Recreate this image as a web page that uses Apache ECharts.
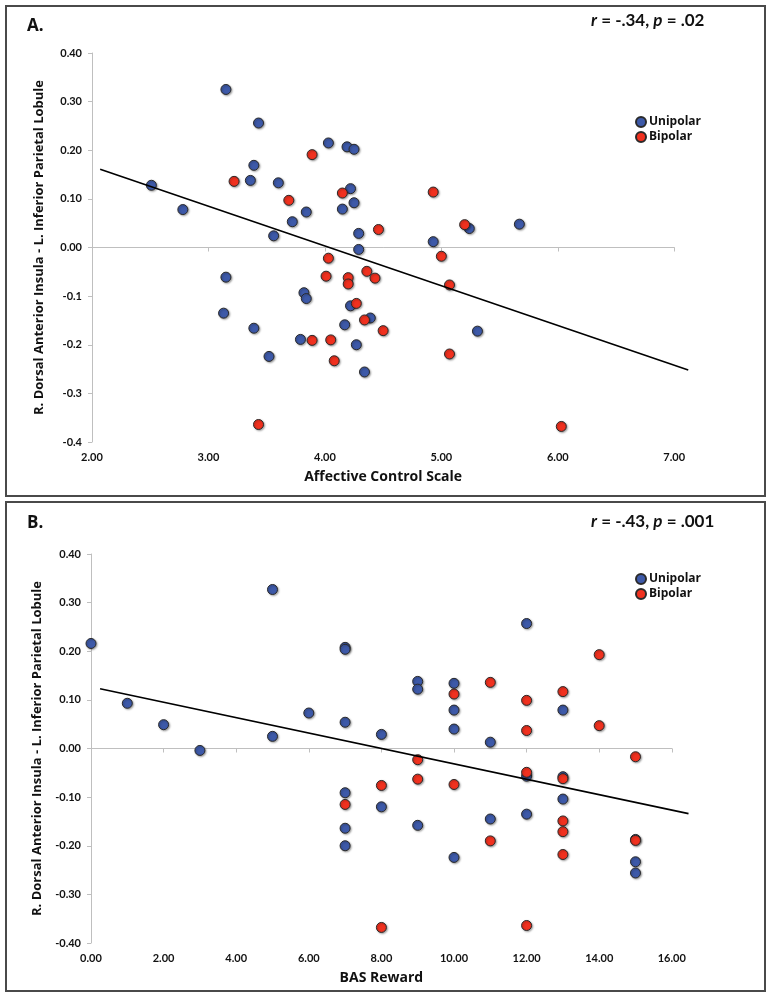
<!DOCTYPE html>
<html>
<head>
<meta charset="utf-8">
<script src="https://cdn.jsdelivr.net/npm/echarts@6.0.0/dist/echarts.min.js"></script>
<style>
html,body{margin:0;padding:0;background:#fff;}
#c{width:773px;height:1000px;}
</style>
</head>
<body>
<div id="c"></div>
<script>
// ---------- Panel A data: Affective Control Scale vs connectivity ----------
const unipolarA = [
  [2.51,0.128],[2.78,0.078],[3.15,0.325],[3.43,0.256],[3.36,0.138],[3.39,0.169],
  [3.60,0.133],[3.84,0.073],[3.72,0.053],[3.56,0.024],[4.03,0.215],[4.19,0.207],
  [4.25,0.202],[4.22,0.121],[4.25,0.092],[4.15,0.079],[4.29,0.029],[4.29,-0.004],
  [4.93,0.012],[5.24,0.039],[5.67,0.048],[3.15,-0.061],[3.13,-0.135],[3.39,-0.166],
  [3.52,-0.224],[3.82,-0.093],[3.84,-0.105],[3.79,-0.189],[4.22,-0.120],[4.39,-0.145],
  [4.17,-0.159],[5.31,-0.172],[4.27,-0.200],[4.34,-0.256]
];
const bipolarA = [
  [3.22,0.136],[3.89,0.191],[3.69,0.097],[4.15,0.112],[4.46,0.037],[4.93,0.114],
  [5.20,0.047],[4.03,-0.022],[5.00,-0.018],[3.43,-0.364],[3.89,-0.191],[4.01,-0.059],
  [4.20,-0.062],[4.20,-0.075],[4.36,-0.049],[4.43,-0.063],[5.07,-0.077],[4.27,-0.115],
  [4.34,-0.149],[4.50,-0.171],[4.05,-0.190],[5.07,-0.219],[4.08,-0.233],[6.03,-0.368]
];
const trendA = [[2.07,0.161],[7.12,-0.252]];
const xTickLabelsA = ['2.00','3.00','4.00','5.00','6.00','7.00'];
const yTickLabelsA = ['-0.4','-0.3','-0.2','-0.1','0.00','0.10','0.20','0.30','0.40'];

// ---------- Panel B data: BAS Reward vs connectivity ----------
const unipolarB = [
  [0,0.216],[1,0.093],[2,0.049],[3,-0.004],[5,0.327],[5,0.025],[6,0.073],
  [7,0.208],[7,0.204],[7,0.054],[7,-0.091],[7,-0.164],[7,-0.200],
  [8,0.029],[8,-0.120],[9,0.138],[9,0.122],[9,-0.158],
  [10,0.134],[10,0.079],[10,0.040],[10,-0.224],[11,0.013],[11,-0.145],
  [12,0.257],[12,-0.057],[12,-0.135],[13,0.079],[13,-0.058],[13,-0.104],
  [15,-0.187],[15,-0.233],[15,-0.256]
];
const bipolarB = [
  [7,-0.115],[8,-0.076],[8,-0.368],[9,-0.023],[9,-0.063],[10,0.112],[10,-0.074],
  [11,0.136],[11,-0.190],[12,0.099],[12,0.037],[12,-0.049],[12,-0.364],
  [13,0.117],[13,-0.062],[13,-0.149],[13,-0.171],[13,-0.218],
  [14,0.193],[14,0.047],[15,-0.017],[15,-0.189]
];
const trendB = [[0.25,0.123],[16.46,-0.134]];
const xTickLabelsB = ['0.00','2.00','4.00','6.00','8.00','10.00','12.00','14.00','16.00'];
const yTickLabelsB = ['-0.40','-0.30','-0.20','-0.10','0.00','0.10','0.20','0.30','0.40'];

const seriesNames = ['Unipolar','Bipolar'];
const statA = ['r', ' = -.34, ', 'p', ' = .02'];
const statB = ['r', ' = -.43, ', 'p', ' = .001'];
const yTitle = 'R. Dorsal Anterior Insula - L. Inferior Parietal Lobule';
const xTitleA = 'Affective Control Scale';
const xTitleB = 'BAS Reward';

// ---------- styling ----------
const BLUE = '#3d59a8';
const RED = '#f0311f';
const AXIS_GRAY = '#bfbfbf';
const tickFont = {fontFamily:'Lato', fontWeight:'bold', fontSize:11, color:'#111'};
const titleFont = {fontFamily:'Open Sans', fontWeight:'bold', fontSize:14, color:'#111'};

// geometry of the two panels (pixel layout only)
const PA = {left:92, top:53, height:389, pxPerUnit:116.45, min:2, max:7, trendMax:7.25};
const PB = {left:91, top:554, height:389, pxPerUnit:36.3, min:0, max:16, trendMax:16.6};

function labelFrom(arr, min, step){
  return function(v){ const i = Math.round((v - min)/step); return arr[i] !== undefined ? arr[i] : ''; };
}

function xAxes(gridIndex, P, interval, labels, name){
  return [
    {
      type:'value', gridIndex, position:'bottom', min:P.min, max:P.max, interval,
      axisLine:{show:false, onZero:false}, axisTick:{show:false}, splitLine:{show:false},
      axisLabel:Object.assign({margin:10, formatter:labelFrom(labels, P.min, interval)}, tickFont),
      name, nameLocation:'middle', nameGap:28,
      nameTextStyle:Object.assign({}, titleFont, {fontSize:14})
    },
    {
      type:'value', gridIndex, position:'top', min:P.min, max:P.max, interval,
      axisLine:{show:true, onZero:true, lineStyle:{color:AXIS_GRAY, width:1}},
      axisTick:{show:true, inside:true, length:4, lineStyle:{color:AXIS_GRAY}},
      axisLabel:{show:false}, splitLine:{show:false}
    }
  ];
}
function hiddenX(gridIndex, P){
  return {type:'value', gridIndex, min:P.min, max:P.trendMax, show:false, splitLine:{show:false}};
}
function yAxis(gridIndex, labels){
  return {
    type:'value', gridIndex, min:-0.4, max:0.4, interval:0.1,
    axisLine:{show:true, lineStyle:{color:AXIS_GRAY, width:1}},
    axisTick:{show:true, length:4, lineStyle:{color:AXIS_GRAY}},
    splitLine:{show:false},
    axisLabel:Object.assign({margin:10, formatter:labelFrom(labels, -0.4, 0.1)}, tickFont),
    name:yTitle, nameLocation:'middle', nameGap:46,
    nameTextStyle:Object.assign({}, titleFont, {fontSize:13})
  };
}
function hiddenY(gridIndex){
  return {type:'value', gridIndex, min:-0.4, max:0.4, show:false, splitLine:{show:false}};
}
function scatter(name, data, color, xi, yi){
  return {
    name, type:'scatter', data, xAxisIndex:xi, yAxisIndex:yi, symbol:'circle', symbolSize:10,
    itemStyle:{color, borderColor:'#2a2a2a', borderWidth:1,
      shadowColor:'rgba(0,0,0,0.35)', shadowBlur:2, shadowOffsetX:1, shadowOffsetY:1, opacity:1},
    emphasis:{disabled:true}, z:3
  };
}
function trend(data, xi, yi){
  return {
    name:'trend', type:'line', data, xAxisIndex:xi, yAxisIndex:yi, symbol:'none', clip:false,
    lineStyle:{color:'#000', width:1.6}, silent:true, z:4
  };
}
function statTitle(parts, top){
  return {
    left:586, top,
    text:'{i|' + parts[0] + '}{b|' + parts[1] + '}{i|' + parts[2] + '}{b|' + parts[3] + '}',
    textStyle:{rich:{
      i:{fontFamily:'Lato', fontStyle:'italic', fontWeight:'bold', fontSize:17, color:'#111'},
      b:{fontFamily:'Lato', fontWeight:'bold', fontSize:17, color:'#111'}
    }}
  };
}
function legend(top){
  return {
    data:seriesNames, left:630, top, orient:'vertical', icon:'circle',
    itemWidth:10, itemHeight:10, itemGap:3, selectedMode:false,
    textStyle:{fontFamily:'Open Sans', fontWeight:'bold', fontSize:12, color:'#111', padding:[0,0,0,-2]}
  };
}
function grid(P, upTo){
  return {left:P.left, top:P.top, width:(upTo - P.min) * P.pxPerUnit, height:P.height};
}

const chart = echarts.init(document.getElementById('c'), null, {renderer:'canvas'});
chart.setOption({
  backgroundColor:'#fff',
  animation:false,
  title:[
    {left:22, top:13, text:'A.', textStyle:{fontFamily:'Open Sans', fontWeight:'bold', fontSize:17, color:'#111'}},
    statTitle(statA, 7),
    {left:22, top:510, text:'B.', textStyle:{fontFamily:'Open Sans', fontWeight:'bold', fontSize:17, color:'#111'}},
    statTitle(statB, 508)
  ],
  legend:[legend(111), legend(568)],
  grid:[grid(PA, PA.max), grid(PB, PB.max), grid(PA, PA.trendMax), grid(PB, PB.trendMax)],
  xAxis:[].concat(
    xAxes(0, PA, 1, xTickLabelsA, xTitleA),
    xAxes(1, PB, 2, xTickLabelsB, xTitleB),
    [hiddenX(2, PA), hiddenX(3, PB)]
  ),
  yAxis:[yAxis(0, yTickLabelsA), yAxis(1, yTickLabelsB), hiddenY(2), hiddenY(3)],
  series:[
    scatter(seriesNames[0], unipolarA, BLUE, 0, 0),
    scatter(seriesNames[1], bipolarA, RED, 0, 0),
    trend(trendA, 4, 2),
    scatter(seriesNames[0], unipolarB, BLUE, 2, 1),
    scatter(seriesNames[1], bipolarB, RED, 2, 1),
    trend(trendB, 5, 3)
  ],
  graphic:[
    {type:'rect', shape:{x:6, y:6, width:759, height:490}, style:{fill:'none', stroke:'#4a4a4a', lineWidth:2}, silent:true, z:-1},
    {type:'rect', shape:{x:6, y:502, width:759, height:489}, style:{fill:'none', stroke:'#4a4a4a', lineWidth:2}, silent:true, z:-1}
  ]
});
</script>
</body>
</html>
